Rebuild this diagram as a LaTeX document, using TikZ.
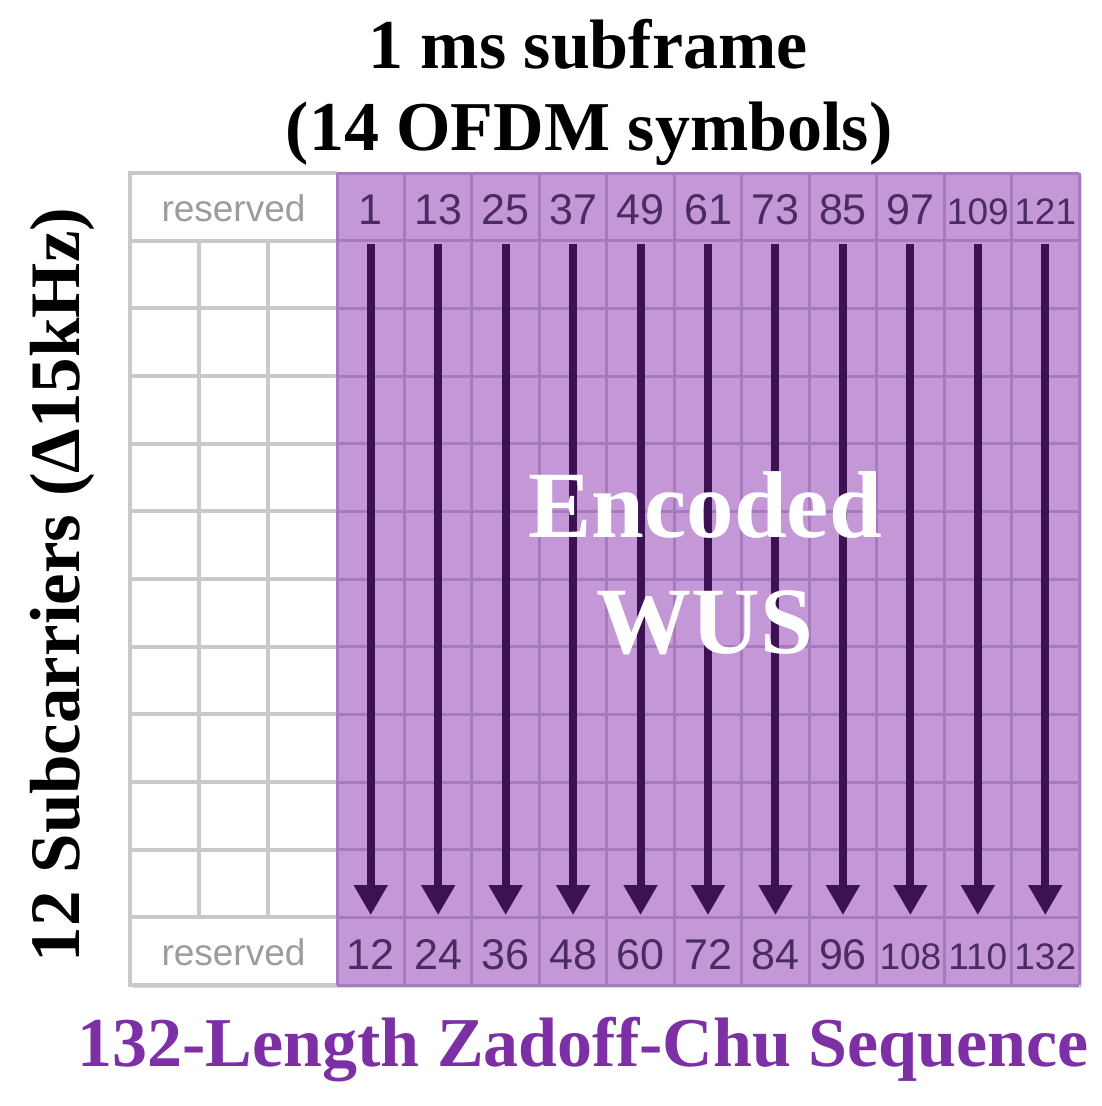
\documentclass[tikz,border=0pt]{standalone}
\usepackage{fontspec}
\setmainfont{Liberation Serif}
\newfontfamily\arial{Liberation Sans}
\usetikzlibrary{arrows.meta}
\definecolor{pfill}{HTML}{C498D6}
\definecolor{pline}{HTML}{A67BBD}
\definecolor{parrow}{HTML}{3D1253}
\definecolor{pnum}{HTML}{4A2B62}
\definecolor{pbottom}{HTML}{7D30A5}
\definecolor{gline}{HTML}{C9C9C9}
\definecolor{gtext}{HTML}{9C9C9C}
\newcommand\numsize[1]{\ifnum#1>99 \fontsize{37}{40}\selectfont\else\fontsize{43}{46}\selectfont\fi}
\begin{document}
\begin{tikzpicture}[x=1pt,y=-1pt,
  numcell/.style={inner sep=0pt, text=pnum, text height=30pt, text depth=0pt},
  rescell/.style={inner sep=0pt, text=gtext, font=\arial\fontsize{37}{40}\selectfont},
  arr/.style={draw=parrow, line width=8pt, -{Triangle[width=32pt,length=30pt]}},
  title/.style={font=\bfseries\fontsize{70}{80}\selectfont, anchor=base, inner sep=0pt},
  wustxt/.style={font=\bfseries\fontsize{95}{100}\selectfont, anchor=base, inner sep=0pt, text=white}
]
\useasboundingbox (0,0) rectangle (1102,1106);
\fill[white] (0,0) rectangle (1102,1106);
\def\xL{130}\def\xP{337}\def\xR{1079}\def\yT{173}\def\yB{985}
\pgfmathsetmacro\rh{(\yB-\yT)/12}
\pgfmathsetmacro\cw{(\xR-\xP)/11}
\pgfmathsetmacro\ww{(\xP-\xL)/3}
% shadow and fills
\fill[black!15] (\xL+3,\yT+3) rectangle (\xR+3,\yB+3);
\fill[white] (\xL,\yT) rectangle (\xP,\yB);
\fill[pfill] (\xP,\yT) rectangle (\xR,\yB);
% gray grid
\foreach \i in {0,...,12} \draw[gline,line width=4pt] (\xL-2,\yT+\i*\rh) -- (\xP,\yT+\i*\rh);
\foreach \j in {1,2} \draw[gline,line width=4pt] (\xL+\j*\ww,\yT+\rh) -- (\xL+\j*\ww,\yB-\rh);
\draw[gline,line width=4pt] (\xL,\yT) -- (\xL,\yB);
% purple grid
\foreach \i in {0,...,12} \draw[pline,line width=3pt] (\xP,\yT+\i*\rh) -- (\xR,\yT+\i*\rh);
\foreach \j in {0,...,11} \draw[pline,line width=3pt] (\xP+\j*\cw,\yT) -- (\xP+\j*\cw,\yB);
% reserved
\node[rescell] (restop) at ({(\xL+\xP)/2},{\yT+\rh/2+1}) {reserved};
\node[rescell] (resbot) at ({(\xL+\xP)/2},{\yB-\rh/2+1}) {reserved};
% numbers and arrows
\foreach \t/\b [count=\k from 0] in {1/12,13/24,25/36,37/48,49/60,61/72,73/84,85/96,97/108,109/110,121/132} {
  \node[numcell, minimum width=\cw pt, minimum height=\rh pt] (t\k) at ({\xP+\k*\cw+\cw/2},{\yT+\rh/2+3}) {\arial\numsize{\t}\t};
  \node[numcell, minimum width=\cw pt, minimum height=\rh pt] (b\k) at ({\xP+\k*\cw+\cw/2},{\yB-\rh/2+3}) {\arial\numsize{\b}\b};
  \draw[arr, shorten >=5pt] (t\k.south) -- (b\k.north);
}
% Encoded WUS
\node[wustxt] (enc) at (705,537) {Encoded};
\node[wustxt] (wus) at (705,653) {WUS};
% titles
\node[title] (title1) at (588,68) {1 ms subframe};
\node[title] (title2) at (589,150) {(14 OFDM symbols)};
\node[font=\bfseries\fontsize{71}{80}\selectfont, rotate=90, inner sep=0pt] (ylab) at (62,585) {12 Subcarriers (Δ15kHz)};
\node[title, text=pbottom] (zc) at (583,1066) {132-Length Zadoff-Chu Sequence};
\end{tikzpicture}
\end{document}
